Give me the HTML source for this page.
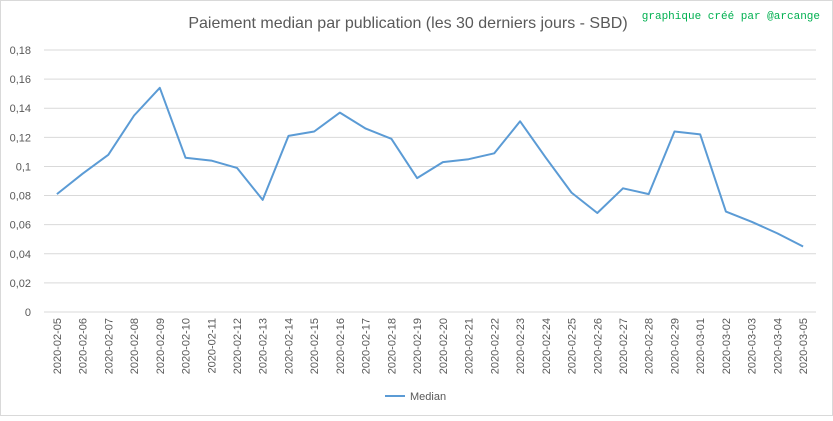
<!DOCTYPE html>
<html><head><meta charset="utf-8"><style>
body{margin:0;background:#fff;font-family:"Liberation Sans",sans-serif}
</style></head><body>
<svg width="833" height="416" xmlns="http://www.w3.org/2000/svg">
<rect x="0.5" y="0.5" width="832" height="415" fill="#fff" stroke="#d9d9d9"/>
<text x="408" y="28" text-anchor="middle" font-size="16" fill="#595959">Paiement median par publication (les 30 derniers jours - SBD)</text>
<text x="820" y="19" text-anchor="end" font-size="11" fill="#00b050" font-family="Liberation Mono, monospace">graphique créé par @arcange</text>
<g id="grid"></g>
<g id="yt"></g>
<g id="xt"></g>
<path id="line" fill="none" stroke="#5b9bd5" stroke-width="2" stroke-linejoin="round"/>
<line x1="385" y1="396" x2="405" y2="396" stroke="#5b9bd5" stroke-width="2"/>
<text x="410" y="400" font-size="11" fill="#595959">Median</text>
</svg>
<script>
const categories=["2020-02-05","2020-02-06","2020-02-07","2020-02-08","2020-02-09","2020-02-10","2020-02-11","2020-02-12","2020-02-13","2020-02-14","2020-02-15","2020-02-16","2020-02-17","2020-02-18","2020-02-19","2020-02-20","2020-02-21","2020-02-22","2020-02-23","2020-02-24","2020-02-25","2020-02-26","2020-02-27","2020-02-28","2020-02-29","2020-03-01","2020-03-02","2020-03-03","2020-03-04","2020-03-05"];
const median=[0.081,0.095,0.108,0.135,0.154,0.106,0.104,0.099,0.077,0.121,0.124,0.137,0.126,0.119,0.092,0.103,0.105,0.109,0.131,0.106,0.082,0.068,0.085,0.081,0.124,0.122,0.069,0.062,0.054,0.045];
const yTicks=[0,0.02,0.04,0.06,0.08,0.1,0.12,0.14,0.16,0.18];
const yLabels=["0","0,02","0,04","0,06","0,08","0,1","0,12","0,14","0,16","0,18"];
const NS="http://www.w3.org/2000/svg";
const L=44,R=816,T=50,B=312,yMax=0.18;
const y=v=>B-(v/yMax)*(B-T);
const bw=(R-L)/categories.length;
const x=i=>L+bw*(i+0.5);
const grid=document.getElementById('grid'),yt=document.getElementById('yt'),xt=document.getElementById('xt');
yTicks.forEach((t,i)=>{
 const l=document.createElementNS(NS,'line');
 
 
 l.setAttribute('x1',L);l.setAttribute('x2',R);l.setAttribute('y1',y(t));l.setAttribute('y2',y(t));
 l.setAttribute('stroke','#d9d9d9');l.setAttribute('stroke-width','1');
 grid.appendChild(l);
 const tx=document.createElementNS(NS,'text');
 
 
 tx.setAttribute('x',L-13);tx.setAttribute('y',y(t)+4);tx.setAttribute('text-anchor','end');
 tx.setAttribute('font-size','11');tx.setAttribute('fill','#595959');tx.textContent=yLabels[i];
 yt.appendChild(tx);
});
categories.forEach((c,i)=>{
 const tx=document.createElementNS(NS,'text');
 
 
 const cx=x(i)+4,cy=B+6;
 tx.setAttribute('x',cx);tx.setAttribute('y',cy);tx.setAttribute('text-anchor','end');
 tx.setAttribute('transform','rotate(-90 '+cx+' '+cy+')');
 tx.setAttribute('font-size','11');tx.setAttribute('fill','#595959');tx.textContent=c;
 xt.appendChild(tx);
});
document.getElementById('line').setAttribute('d',median.map((v,i)=>(i?'L':'M')+x(i).toFixed(1)+' '+y(v).toFixed(1)).join(' '));
</script>
</body></html>
